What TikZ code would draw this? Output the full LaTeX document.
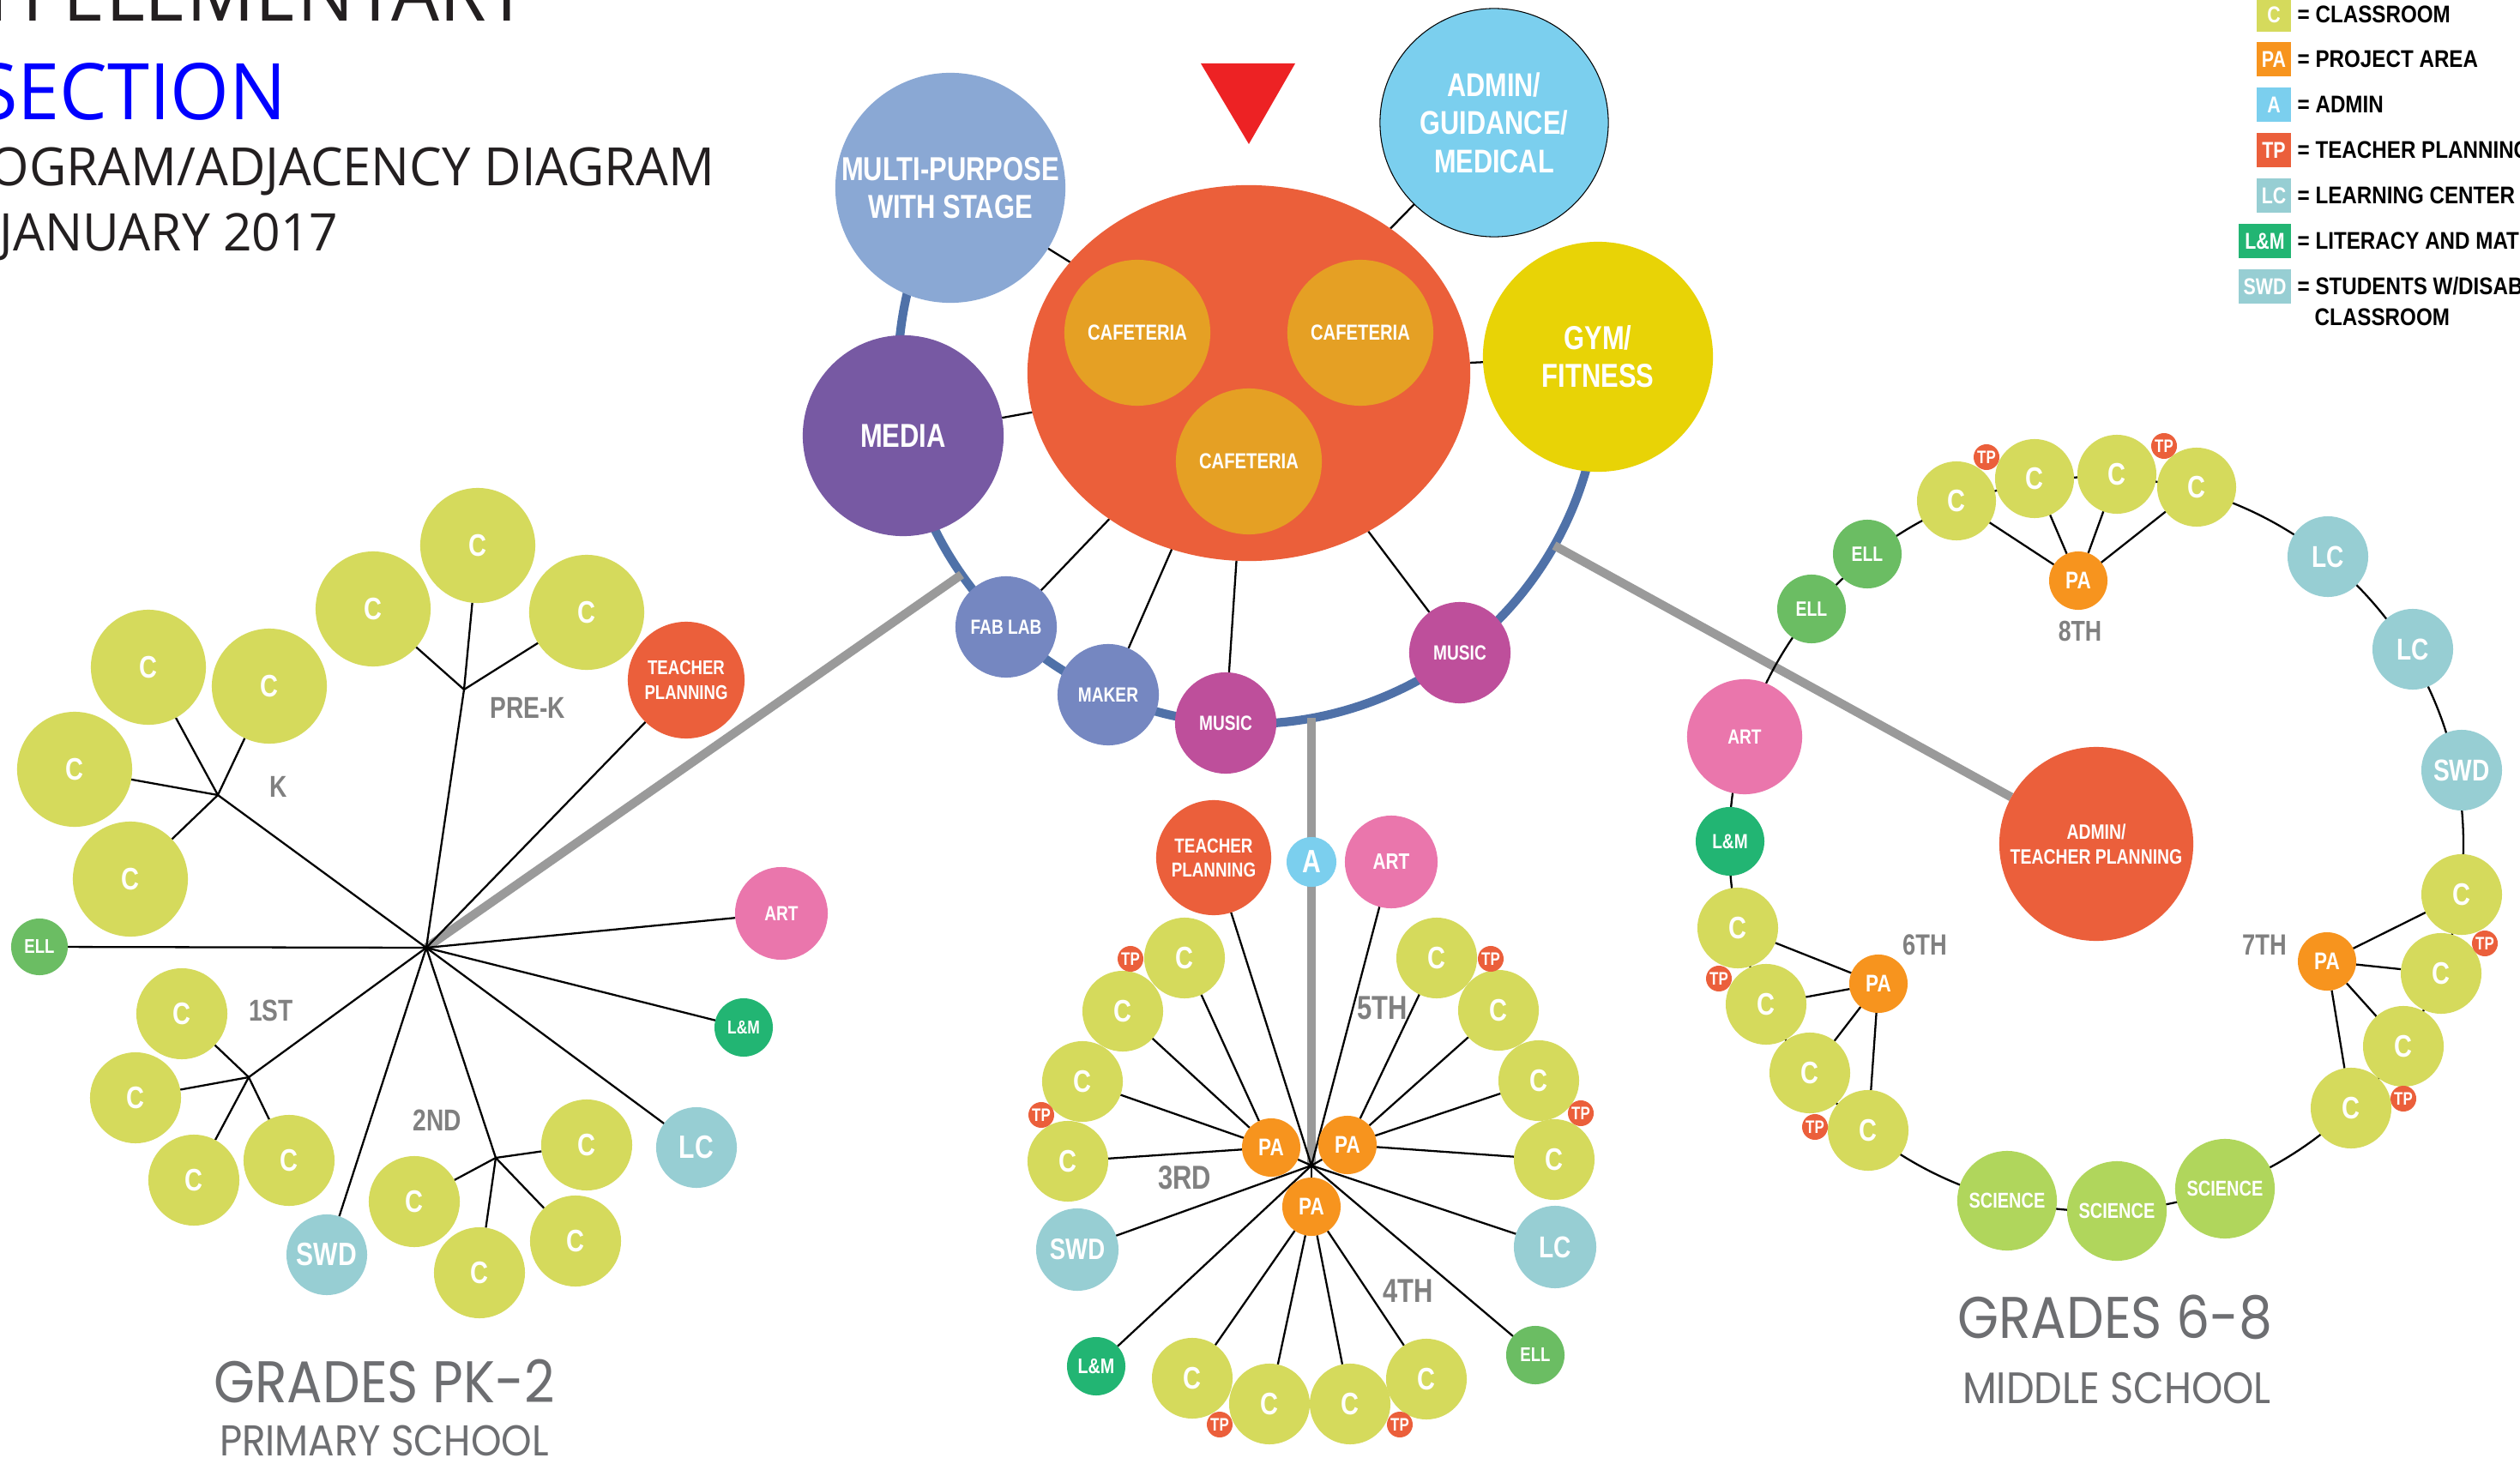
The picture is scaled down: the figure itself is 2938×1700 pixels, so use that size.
\documentclass[tikz,border=0pt]{standalone}
\usepackage{fontspec}
\setmainfont{Liberation Sans}
\newfontfamily\labfam{Liberation Sans}[FakeStretch=0.8]
\newfontfamily\legfam{Liberation Sans}[FakeStretch=0.86]
\newfontfamily\titfam{Open Sans}[FakeStretch=0.97]
\newfontfamily\grfam{Poppins}[FakeStretch=0.9]
\newcommand\myLF[2]{\labfam\bfseries\fontsize{#1}{#2}\selectfont}
\newcommand\myLG[1]{\legfam\bfseries\fontsize{#1}{#1}\selectfont}
\newcommand\myTF[1]{\titfam\fontsize{#1}{#1}\selectfont}
\newcommand\myGF[1]{\grfam\fontsize{#1}{#1}\selectfont}
\usetikzlibrary{shapes.geometric}
\pgfdeclarelayer{bgwhite}
\pgfdeclarelayer{lines}
\pgfsetlayers{bgwhite,lines,main}
\definecolor{cC}{HTML}{D5DA5C}
\definecolor{cPA}{HTML}{F7941E}
\definecolor{cA}{HTML}{7BCFEE}
\definecolor{cTP}{HTML}{EB5F3B}
\definecolor{cLC}{HTML}{97CED3}
\definecolor{cLM}{HTML}{22B573}
\definecolor{cELL}{HTML}{6BBD63}
\definecolor{cART}{HTML}{EA76AC}
\definecolor{cSCI}{HTML}{B0D65C}
\definecolor{cMULTI}{HTML}{8AA8D4}
\definecolor{cMEDIA}{HTML}{7759A3}
\definecolor{cFAB}{HTML}{7587C1}
\definecolor{cMUS}{HTML}{BE4F9B}
\definecolor{cGYM}{HTML}{E8D306}
\definecolor{cOR}{HTML}{EB5F3A}
\definecolor{cCAF}{HTML}{E5A024}
\definecolor{cRING}{HTML}{4F71A8}
\definecolor{cGREY}{HTML}{9A9A9A}
\definecolor{cLAB}{HTML}{808080}
\definecolor{cTIT}{HTML}{6D6E71}
\definecolor{cTRI}{HTML}{ED2224}
\definecolor{cBLK}{HTML}{231F20}
\begin{document}
\begin{tikzpicture}[x=0.01cm,y=-0.01cm,
  bub/.style={circle, inner sep=0pt, outer sep=0pt, minimum size=#1*0.02cm, text=white, align=center},
  cls/.style={bub=#1, fill=cC, font=\myLF{10.3}{12}},
  pa/.style={bub=34, fill=cPA, font=\myLF{8}{9}},
  tpb/.style={bub=15, fill=cTP, font=\myLF{6}{7}},
  cnx/.style={line width=0.65pt, draw=black},
  gline/.style={line width=2.9pt, draw=cGREY},
  orbit/.style={line width=2.9pt, draw=cRING},
  grade/.style={text=cLAB, font=\myLF{10}{12}, inner sep=0pt},
  legsw/.style={rectangle, inner sep=0pt, minimum height=0.4cm, minimum width=#1*0.01cm, text=white, font=\myLF{7.6}{8}},
  legtx/.style={anchor=west, inner sep=0pt, text=black, font=\myLG{8}},
  bigtitle/.style={text=cTIT, inner sep=0pt, anchor=base}]
\useasboundingbox (0,0) rectangle (2938,1700);
\begin{pgfonlayer}{bgwhite}
\fill[white] (0,0) rectangle (2938,1700);
\end{pgfonlayer}
\clip (0,0) rectangle (2938,1700);

% ---------- titles ----------
\node[anchor=base east, inner sep=0pt, text=cBLK, font=\myTF{25.9}] (t1) at (617,25) {H ELEMENTARY};
\node[anchor=base east, inner sep=0pt, text=blue, font=\myTF{25.9}] (t2) at (335,140) {SECTION};
\node[anchor=base east, inner sep=0pt, text=cBLK, font=\myTF{17.5}] (t3) at (834,217) {PROGRAM/ADJACENCY DIAGRAM};
\node[anchor=base east, inner sep=0pt, text=cBLK, font=\myTF{17.2}] (t4) at (395,293) {JANUARY 2017};

% ---------- legend ----------
\node[legsw=40, fill=cC] (lg1) at (2651,17) {C};
\node[legsw=40, fill=cPA] (lg2) at (2651,69) {PA};
\node[legsw=40, fill=cA] (lg3) at (2651,122) {A};
\node[legsw=40, fill=cTP] (lg4) at (2651,175) {TP};
\node[legsw=40, fill=cLC] (lg5) at (2651,228) {LC};
\node[legsw=61, fill=cLM] (lg6) at (2640.5,281) {L\&M};
\node[legsw=61, fill=cLC] (lg7) at (2640.5,334) {SWD};
\node[legtx] (lt1) at (2678,17) {= CLASSROOM};
\node[legtx] (lt2) at (2678,69) {= PROJECT AREA};
\node[legtx] (lt3) at (2678,122) {= ADMIN};
\node[legtx] (lt4) at (2678,175) {= TEACHER PLANNING};
\node[legtx] (lt5) at (2678,228) {= LEARNING CENTER};
\node[legtx] (lt6) at (2678,281) {= LITERACY AND MATH};
\node[legtx] (lt7) at (2678,334) {= STUDENTS W/DISABILITIES};
\node[legtx] (lt8) at (2698,370) {CLASSROOM};

% ---------- central ----------
\fill[cTRI] (1400,74) -- (1510,74) -- (1456,168) -- cycle;
\node[ellipse, inner sep=0pt, outer sep=0pt, minimum width=5.16cm, minimum height=4.38cm, fill=cOR] (caf) at (1456,435) {};
\node[bub=85, fill=cCAF, font=\myLF{7.2}{8}] (cafA) at (1326,388) {CAFETERIA};
\node[bub=85, fill=cCAF, font=\myLF{7.2}{8}] (cafB) at (1586,388) {CAFETERIA};
\node[bub=85, fill=cCAF, font=\myLF{7.2}{8}] (cafC) at (1456,538) {CAFETERIA};
\node[bub=134, fill=cMULTI, font=\myLF{11}{12.5}] (multi) at (1108,219) {MULTI-PURPOSE\\WITH STAGE};
\node[bub=117, fill=cMEDIA, font=\myLF{11}{12.5}] (media) at (1053,508) {MEDIA};
\node[bub=133, fill=cA, draw=black, line width=0.3pt, font=\myLF{10.9}{12.6}] (admin) at (1742,143) {ADMIN/\\GUIDANCE/\\MEDICAL};
\node[bub=134, fill=cGYM, font=\myLF{11}{12.5}] (gym) at (1863,416) {GYM/\\FITNESS};
\node[bub=59, fill=cFAB, font=\myLF{6.8}{8}] (fab) at (1173,731) {FAB LAB};
\node[bub=59, fill=cFAB, font=\myLF{6.8}{8}] (maker) at (1292,810) {MAKER};
\node[bub=59, fill=cMUS, font=\myLF{6.8}{8}] (musA) at (1429,843) {MUSIC};
\node[bub=59, fill=cMUS, font=\myLF{6.8}{8}] (musB) at (1702,761) {MUSIC};
\coordinate (gp1) at (1121,670);
\coordinate (gp2) at (1529,837);
\coordinate (gp3) at (1812,636);

% ---------- primary ----------
\coordinate (ph) at (497,1105);
\coordinate (kj) at (254,927);
\coordinate (pj) at (541,804);
\coordinate (fj) at (290,1256);
\coordinate (sj) at (578,1350);
\node[cls=67] (k1) at (173,778) {C};
\node[cls=67] (k2) at (314,800) {C};
\node[cls=67] (k3) at (87,897) {C};
\node[cls=67] (k4) at (152,1025) {C};
\node[cls=67] (p1) at (435,710) {C};
\node[cls=67] (p2) at (557,636) {C};
\node[cls=67] (p3) at (684,714) {C};
\node[bub=68, fill=cTP, font=\myLF{6.6}{8}] (pTP) at (800,793) {TEACHER\\PLANNING};
\node[bub=54, fill=cART, font=\myLF{6.8}{8}] (pART) at (911,1065) {ART};
\node[bub=34, fill=cLM, font=\myLF{6.2}{7}] (pLM) at (867,1198) {L\&M};
\node[bub=47, fill=cLC, font=\myLF{10.7}{12}] (pLC) at (812,1338) {LC};
\node[bub=33, fill=cELL, font=\myLF{6.6}{7}] (pELL) at (46,1104) {ELL};
\node[cls=53] (f1) at (212,1182) {C};
\node[cls=53] (f2) at (158,1280) {C};
\node[cls=53] (f3) at (226,1376) {C};
\node[cls=53] (f4) at (337,1353) {C};
\node[bub=47, fill=cLC, font=\myLF{10.7}{12}] (pSWD) at (381,1463) {SWD};
\node[cls=53] (s1) at (684,1335) {C};
\node[cls=53] (s2) at (483,1401) {C};
\node[cls=53] (s3) at (559,1484) {C};
\node[cls=53] (s4) at (671,1447) {C};
\node[grade] (gK) at (325,917) {K};
\node[grade] (gPK) at (615,825) {PRE-K};
\node[grade] (g1) at (316,1178) {1ST};
\node[grade] (g2) at (510,1306) {2ND};
\node[bigtitle, font=\myGF{19.5}] (ttP1) at (448,1635) {GRADES PK-2};
\node[bigtitle, font=\myGF{14.3}] (ttP2) at (448,1697) {PRIMARY SCHOOL};

% ---------- elementary 3-5 ----------
\coordinate (eh) at (1529,1359);
\node[bub=67, fill=cTP, font=\myLF{6.7}{8}] (eTP) at (1415,1000) {TEACHER\\PLANNING};
\node[bub=29, fill=cA, font=\myLF{10.7}{12}] (eA) at (1529,1005) {A};
\node[bub=54, fill=cART, font=\myLF{7.4}{8}] (eART) at (1622,1005) {ART};
\node[cls=47] (e3a) at (1381,1117) {C};
\node[cls=47] (e3b) at (1309,1179) {C};
\node[cls=47] (e3c) at (1262,1261) {C};
\node[cls=47] (e3d) at (1245,1354) {C};
\node[bub=48, fill=cLC, font=\myLF{9.8}{12}] (eSWD) at (1256,1457) {SWD};
\node[bub=34, fill=cLM, font=\myLF{7}{8}] (eLM) at (1278,1593) {L\&M};
\node[cls=47] (e4a) at (1390,1607) {C};
\node[cls=47] (e4b) at (1480,1637) {C};
\node[cls=47] (e4c) at (1574,1637) {C};
\node[cls=47] (e4d) at (1663,1608) {C};
\node[bub=34, fill=cELL, font=\myLF{6.6}{7}] (eELL) at (1790,1580) {ELL};
\node[bub=48, fill=cLC, font=\myLF{10}{12}] (eLC) at (1813,1454) {LC};
\node[cls=47] (e5a) at (1675,1117) {C};
\node[cls=47] (e5b) at (1747,1178) {C};
\node[cls=47] (e5c) at (1794,1260) {C};
\node[cls=47] (e5d) at (1812,1352) {C};
\node[pa] (ePAl) at (1482,1338) {PA};
\node[pa] (ePAr) at (1571,1335) {PA};
\node[pa] (ePAb) at (1529,1407) {PA};
\node[tpb] (eb1) at (1318,1118) {TP};
\node[tpb] (eb2) at (1214,1300) {TP};
\node[tpb] (eb3) at (1422,1661) {TP};
\node[tpb] (eb4) at (1632,1661) {TP};
\node[tpb] (eb5) at (1738,1118) {TP};
\node[tpb] (eb6) at (1843,1298) {TP};
\node[grade, font=\myLF{11}{12}] (g3) at (1381,1373) {3RD};
\node[grade, font=\myLF{11}{12}] (g5) at (1612,1175) {5TH};
\node[grade, font=\myLF{11}{12}] (g4) at (1642,1505) {4TH};

% ---------- middle school ----------
\node[bub=113, fill=cTP, font=\myLF{6.9}{8.2}] (mAdm) at (2444,984) {ADMIN/\\TEACHER PLANNING};
\node[cls=46] (m8a) at (2281,584) {C};
\node[cls=46] (m8b) at (2372,558) {C};
\node[cls=46] (m8c) at (2468,553) {C};
\node[cls=46] (m8d) at (2561,568) {C};
\node[pa] (m8p) at (2423,677) {PA};
\node[tpb] (mb1) at (2316,533) {TP};
\node[tpb] (mb2) at (2523,520) {TP};
\node[bub=40, fill=cELL, font=\myLF{6.9}{8}] (mELL1) at (2177,646) {ELL};
\node[bub=40, fill=cELL, font=\myLF{6.9}{8}] (mELL2) at (2112,710) {ELL};
\node[bub=67, fill=cART, font=\myLF{6.8}{8}] (mART) at (2034,859) {ART};
\node[bub=40, fill=cLM, font=\myLF{6.8}{8}] (mLM) at (2017,981) {L\&M};
\node[cls=47] (m6a) at (2026,1082) {C};
\node[cls=47] (m6b) at (2059,1171) {C};
\node[cls=47] (m6c) at (2110,1251) {C};
\node[cls=47] (m6d) at (2178,1318) {C};
\node[pa] (m6p) at (2190,1147) {PA};
\node[tpb] (mb3) at (2004,1141) {TP};
\node[tpb] (mb4) at (2116,1314) {TP};
\node[bub=58, fill=cSCI, font=\myLF{7.1}{8}] (sci1) at (2340,1400) {SCIENCE};
\node[bub=58, fill=cSCI, font=\myLF{7.1}{8}] (sci2) at (2468,1412) {SCIENCE};
\node[bub=58, fill=cSCI, font=\myLF{7.1}{8}] (sci3) at (2594,1386) {SCIENCE};
\node[cls=47] (m7d) at (2741,1292) {C};
\node[cls=47] (m7c) at (2802,1220) {C};
\node[cls=47] (m7b) at (2846,1135) {C};
\node[cls=47] (m7a) at (2870,1043) {C};
\node[pa] (m7p) at (2713,1121) {PA};
\node[tpb] (mb5) at (2897,1100) {TP};
\node[tpb] (mb6) at (2802,1281) {TP};
\node[bub=47, fill=cLC, font=\myLF{10}{12}] (mSWD) at (2870,898) {SWD};
\node[bub=47, fill=cLC, font=\myLF{10}{12}] (mLC1) at (2813,757) {LC};
\node[bub=47, fill=cLC, font=\myLF{10}{12}] (mLC2) at (2714,649) {LC};
\node[grade, font=\myLF{9.5}{12}] (g8) at (2425,736) {8TH};
\node[grade, font=\myLF{9.7}{12}] (g6) at (2244,1102) {6TH};
\node[grade, font=\myLF{9.7}{12}] (g7) at (2640,1102) {7TH};
\node[bigtitle, font=\myGF{19.5}] (ttM1) at (2466,1560) {GRADES 6-8};
\node[bigtitle, font=\myGF{14.6}] (ttM2) at (2468,1636) {MIDDLE SCHOOL};

% ---------- connectors ----------
\begin{pgfonlayer}{lines}
% central
\draw[orbit] (caf.center) ++(212:409) arc[start angle=212, end angle=-2.7, radius=409];
\foreach \n in {multi,media,fab,maker,musA,musB,gym,admin} \draw[cnx] (caf) -- (\n);
\draw[gline] (ph) -- (gp1);
\draw[gline] (eh) -- (gp2);
\draw[gline] (mAdm) -- (gp3);
% primary
\draw[cnx] (ph) -- (kj);
\foreach \n in {k1,k2,k3,k4} \draw[cnx] (kj) -- (\n);
\draw[cnx] (ph) -- (pj);
\foreach \n in {p1,p2,p3} \draw[cnx] (pj) -- (\n);
\draw[cnx] (ph) -- (fj);
\foreach \n in {f1,f2,f3,f4} \draw[cnx] (fj) -- (\n);
\draw[cnx] (ph) -- (sj);
\foreach \n in {s1,s2,s3,s4} \draw[cnx] (sj) -- (\n);
\foreach \n in {pTP,pART,pLM,pLC,pSWD,pELL} \draw[cnx] (ph) -- (\n);
% elementary
\foreach \n in {eTP,eART,eSWD,eLM,eELL,eLC,ePAl,ePAr,ePAb} \draw[cnx] (eh) -- (\n);
\foreach \n in {e3a,e3b,e3c,e3d} \draw[cnx] (ePAl) -- (\n);
\foreach \n in {e5a,e5b,e5c,e5d} \draw[cnx] (ePAr) -- (\n);
\foreach \n in {e4a,e4b,e4c,e4d} \draw[cnx] (ePAb) -- (\n);
% middle
\draw[cnx] (mAdm.center) circle[radius=428];
\foreach \n in {m8a,m8b,m8c,m8d} \draw[cnx] (m8p) -- (\n);
\foreach \n in {m6a,m6b,m6c,m6d} \draw[cnx] (m6p) -- (\n);
\foreach \n in {m7a,m7b,m7c,m7d} \draw[cnx] (m7p) -- (\n);
\end{pgfonlayer}
\end{tikzpicture}
\end{document}
